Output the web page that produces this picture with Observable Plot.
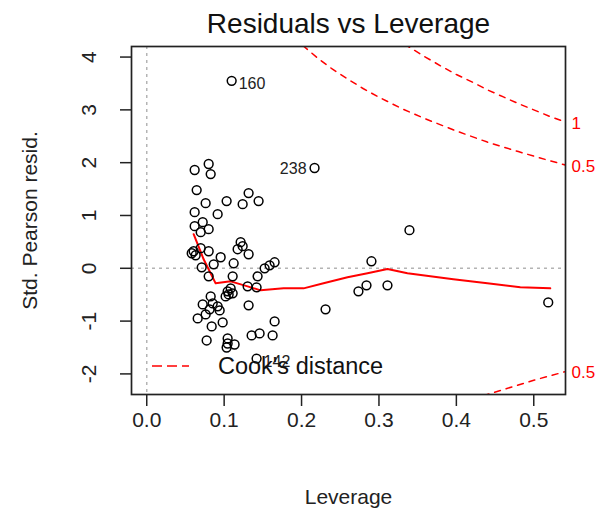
<!DOCTYPE html>
<html>
<head>
<meta charset="utf-8">
<script src="https://cdn.jsdelivr.net/npm/d3@7"></script>
<script src="https://cdn.jsdelivr.net/npm/@observablehq/plot@0.6"></script>
<style>
  html, body { margin: 0; padding: 0; background: #fff; }
</style>
</head>
<body>
<div id="chart"></div>
<script>
// ---- data ----
const chartTitle = "Residuals vs Leverage";
const xAxisLabel = "Leverage";
const yAxisLabel = "Std. Pearson resid.";
const legendLabel = "Cook's distance";

const xTicks = [0, 0.1, 0.2, 0.3, 0.4, 0.5];
const yTicks = [-2, -1, 0, 1, 2, 3, 4];

// observations: leverage and standardized Pearson residual
const leverage = [
  0.0619, 0.0800, 0.0826, 0.0645, 0.0761, 0.1032, 0.1316, 0.1239, 0.1445, 0.0619,
  0.0916, 0.0619, 0.0723, 0.0800, 0.0697, 0.1213, 0.1239, 0.1174, 0.1316, 0.0606,
  0.0632, 0.0581, 0.0697, 0.0800, 0.0955, 0.1123, 0.0710, 0.0865, 0.0800, 0.1110,
  0.1432, 0.1523, 0.1587, 0.1652, 0.1045, 0.1058, 0.1019, 0.1084, 0.1110, 0.1303,
  0.1419, 0.0826, 0.0723, 0.0852, 0.0916, 0.0942, 0.0813, 0.0761, 0.0658, 0.0839,
  0.0981, 0.1316, 0.0774, 0.1045, 0.1045, 0.1135, 0.1032, 0.1355, 0.1458, 0.1626,
  0.1652, 0.1419, 0.2310, 0.2735, 0.2839, 0.3110, 0.2903, 0.3394, 0.5187, 0.1097,
  0.2168
];
const stdResid = [
  1.861, 1.975, 1.785, 1.481, 1.234, 1.272, 1.424, 1.215, 1.272, 1.063,
  1.025, 0.797, 0.873, 0.740, 0.683, 0.494, 0.418, 0.361, 0.266, 0.323,
  0.247, 0.285, 0.380, 0.323, 0.209, 0.095, 0.019, 0.076, -0.152, -0.152,
  -0.152, 0.000, 0.057, 0.114, -0.437, -0.494, -0.532, -0.380, -0.475, -0.342,
  -0.361, -0.532, -0.684, -0.665, -0.721, -0.797, -0.778, -0.873, -0.949, -1.101,
  -1.025, -0.702, -1.367, -1.329, -1.424, -1.443, -1.500, -1.272, -1.234, -1.272,
  -1.006, -1.709, -0.778, -0.437, -0.323, -0.323, 0.133, 0.721, -0.646, 3.550,
  1.899
];

// labelled (most influential) observations
const idLabels = ["160", "238", "142"];
const idLeverage = [0.1097, 0.2168, 0.1419];
const idResid = [3.550, 1.899, -1.709];

// red smoother through the residuals
const smoothLeverage = [0.0606, 0.0735, 0.0890, 0.1084, 0.1303, 0.1471, 0.1768, 0.2026, 0.2284, 0.2594, 0.2852, 0.3110, 0.3368, 0.3961, 0.4400, 0.4826, 0.5213];
const smoothResid    = [0.646, 0.171, -0.285, -0.247, -0.342, -0.418, -0.380, -0.380, -0.285, -0.171, -0.095, -0.015, -0.095, -0.209, -0.285, -0.361, -0.380];

// Cook's distance contours
const cook1Leverage = [0.32, 0.34, 0.36, 0.38, 0.40, 0.42, 0.44, 0.46, 0.48, 0.50, 0.52, 0.545];
const cook1Resid    = [4.37, 4.18, 4.00, 3.83, 3.67, 3.53, 3.38, 3.25, 3.12, 3.00, 2.88, 2.75];
const cook05Leverage = [0.19, 0.20, 0.22, 0.24, 0.26, 0.28, 0.30, 0.33, 0.36, 0.40, 0.44, 0.48, 0.52, 0.545];
const cook05Resid    = [4.37, 4.24, 3.99, 3.77, 3.58, 3.40, 3.24, 3.02, 2.83, 2.60, 2.39, 2.21, 2.04, 1.94];
const cook05LowLeverage = [0.42, 0.43, 0.44, 0.46, 0.48, 0.50, 0.52, 0.545];
const cook05LowResid    = [-2.49, -2.44, -2.39, -2.30, -2.21, -2.12, -2.04, -1.94];

const contourLabels = ["1", "0.5", "0.5"];
const contourLabelResid = [2.74, 1.93, -1.98];

// ---- tables built from the arrays ----
const points = leverage.map((h, i) => ({h, r: stdResid[i]}));
const ids = idLabels.map((t, i) => ({t, h: idLeverage[i], r: idResid[i]}));
const smooth = smoothLeverage.map((h, i) => ({h, r: smoothResid[i]}));
const cook1 = cook1Leverage.map((h, i) => ({h, r: cook1Resid[i]}));
const cook05 = cook05Leverage.map((h, i) => ({h, r: cook05Resid[i]}));
const cook05Low = cook05LowLeverage.map((h, i) => ({h, r: cook05LowResid[i]}));
const cLabels = contourLabels.map((t, i) => ({t, r: contourLabelResid[i]}));

const RED = "#ff0000";
const FONT = "'Liberation Sans', Arial, Helvetica, sans-serif";

function legendMark(index, scales, values, dims) {
  const g = d3.create("svg:g");
  const x0 = dims.marginLeft + 21;
  const y0 = dims.height - dims.marginBottom - 28;
  g.append("line")
    .attr("x1", x0).attr("x2", x0 + 37)
    .attr("y1", y0).attr("y2", y0)
    .attr("stroke", RED).attr("stroke-width", 1.6)
    .attr("stroke-dasharray", "10,5");
  g.append("text")
    .attr("x", x0 + 66).attr("y", y0)
    .attr("dy", "0.35em")
    .attr("text-anchor", "start")
    .attr("font-size", 23.5)
    .attr("fill", "#111")
    .text(legendLabel);
  return g.node();
}

const chart = Plot.plot({
  width: 601,
  height: 515,
  marginTop: 46,
  marginRight: 36,
  marginBottom: 121,
  marginLeft: 131,
  style: {fontFamily: FONT, background: "white", color: "#222", overflow: "visible"},
  x: {domain: [-0.0197, 0.541]},
  y: {domain: [-2.39, 4.2]},
  marks: [
    Plot.ruleY([0], {stroke: "#b4b4b4", strokeWidth: 1.5, strokeDasharray: "3,4"}),
    Plot.ruleX([0], {stroke: "#b4b4b4", strokeWidth: 1.5, strokeDasharray: "3,4"}),
    Plot.line(cook1, {x: "h", y: "r", stroke: RED, strokeWidth: 1.5, strokeDasharray: "6,6", clip: true}),
    Plot.line(cook05, {x: "h", y: "r", stroke: RED, strokeWidth: 1.5, strokeDasharray: "6,6", clip: true}),
    Plot.line(cook05Low, {x: "h", y: "r", stroke: RED, strokeWidth: 1.5, strokeDasharray: "6,6", clip: true}),
    Plot.line(smooth, {x: "h", y: "r", stroke: RED, strokeWidth: 2}),
    Plot.dot(points, {x: "h", y: "r", r: 4.4, stroke: "#000", strokeWidth: 1.5, fill: "none"}),
    Plot.text(ids.filter(d => d.t !== "238"), {x: "h", y: "r", text: "t", textAnchor: "start", dx: 7, dy: 3, fontSize: 16, fill: "#222"}),
    Plot.text(ids.filter(d => d.t === "238"), {x: "h", y: "r", text: "t", textAnchor: "end", dx: -8, dy: 1, fontSize: 16, fill: "#222"}),
    Plot.frame({stroke: "#222", strokeWidth: 1.7}),
    Plot.axisX({ticks: xTicks, tickSize: 12, tickFormat: d3.format(".1f"), tickPadding: 6, fontSize: 21, label: null, strokeWidth: 1.5}),
    Plot.axisY({ticks: yTicks, tickSize: 11, tickFormat: () => "", label: null, strokeWidth: 1.5}),
    Plot.text(yTicks, {y: d => d, frameAnchor: "left", dx: -42, rotate: -90, textAnchor: "middle", lineAnchor: "middle", text: d => String(d), fontSize: 21, fill: "#222"}),
    Plot.text(cLabels, {y: "r", frameAnchor: "right", dx: 6, text: "t", textAnchor: "start", lineAnchor: "middle", fontSize: 17, fill: RED}),
    Plot.text([yAxisLabel], {frameAnchor: "left", dx: -101, rotate: -90, textAnchor: "middle", lineAnchor: "middle", fontSize: 21, fill: "#222"}),
    Plot.text([xAxisLabel], {frameAnchor: "bottom", dy: 103, lineAnchor: "middle", fontSize: 21, fill: "#222"}),
    Plot.text([chartTitle], {frameAnchor: "top", dy: -22, lineAnchor: "middle", fontSize: 28, fill: "#111"}),
    legendMark
  ]
});

document.getElementById("chart").appendChild(chart);
</script>
</body>
</html>
